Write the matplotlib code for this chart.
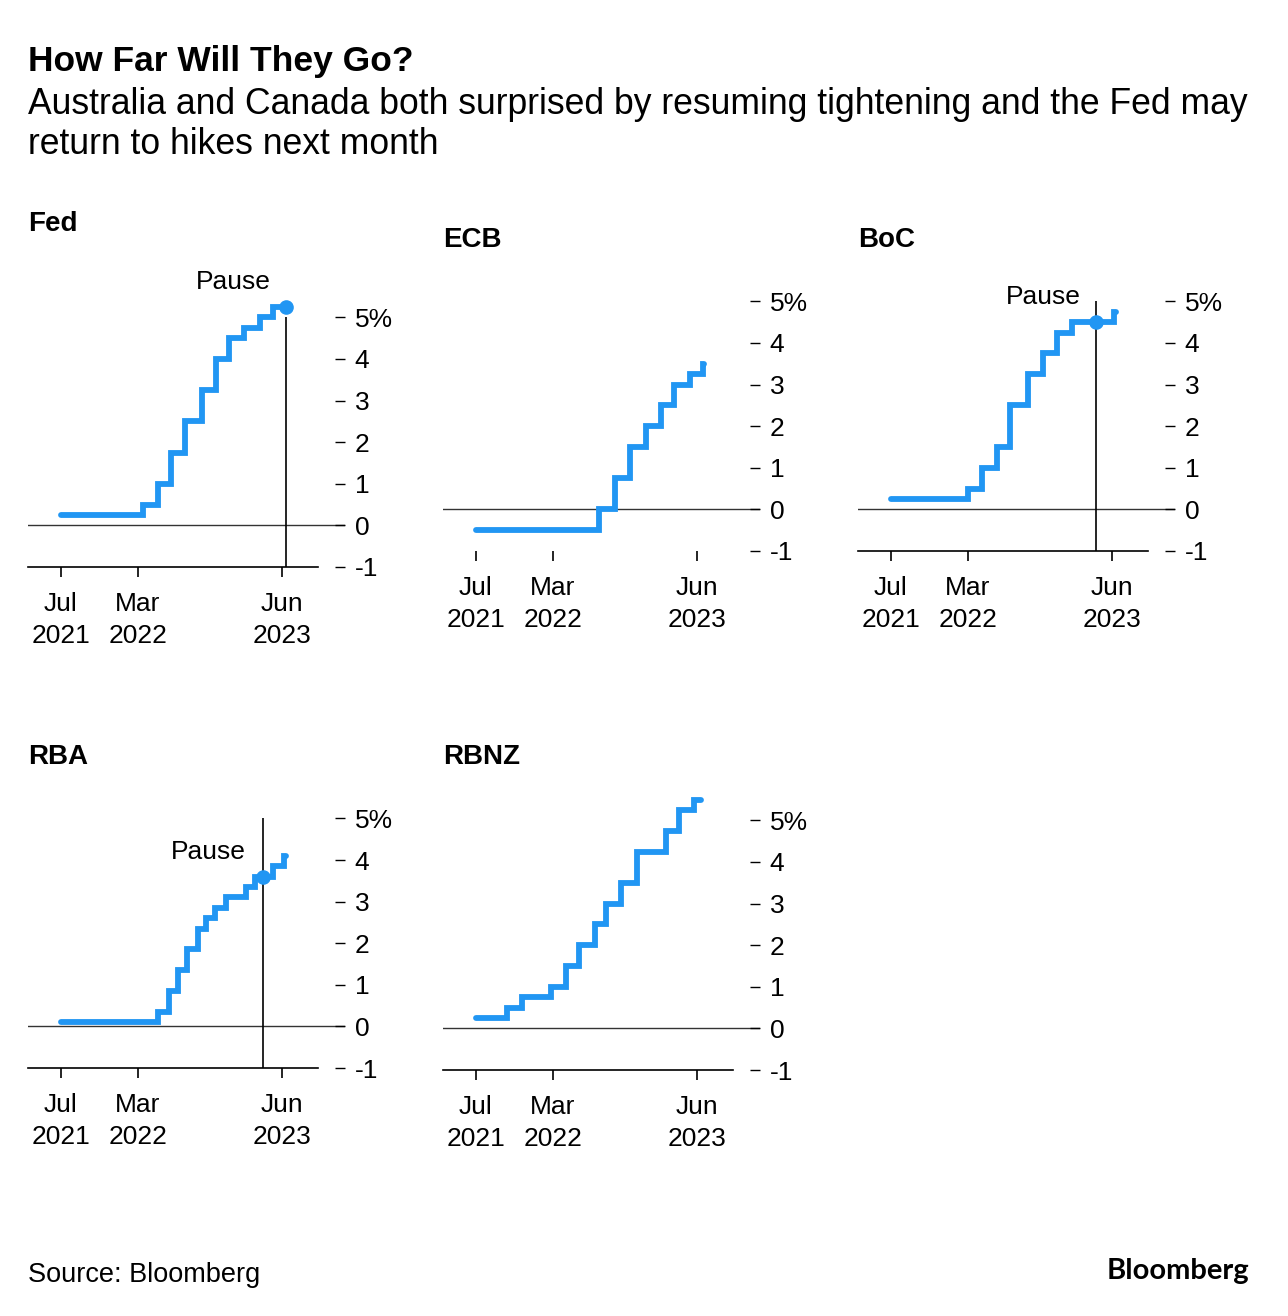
import matplotlib
matplotlib.use("Agg")
from matplotlib import pyplot as plt
import matplotlib.dates as mdates
import pandas as pd

plt.rcParams['font.family'] = ['Liberation Sans', 'DejaVu Sans']

# 数据：各央行政策利率（阶梯）
fed_dates = ["2021-07-01", "2022-03-17", "2022-05-05", "2022-06-16", "2022-07-28", "2022-09-22",
             "2022-11-03", "2022-12-15", "2023-02-02", "2023-03-23", "2023-05-04", "2023-06-14"]
fed_rates = [0.25, 0.50, 1.00, 1.75, 2.50, 3.25, 4.00, 4.50, 4.75, 5.00, 5.25, 5.25]

ecb_dates = ["2021-07-01", "2022-07-27", "2022-09-14", "2022-11-02", "2022-12-21", "2023-02-08",
             "2023-03-22", "2023-05-10", "2023-06-21", "2023-06-23"]
ecb_rates = [-0.50, 0.00, 0.75, 1.50, 2.00, 2.50, 3.00, 3.25, 3.50, 3.50]

boc_dates = ["2021-07-01", "2022-03-03", "2022-04-14", "2022-06-02", "2022-07-14", "2022-09-08",
             "2022-10-27", "2022-12-08", "2023-01-26", "2023-06-08", "2023-06-15"]
boc_rates = [0.25, 0.50, 1.00, 1.50, 2.50, 3.25, 3.75, 4.25, 4.50, 4.75, 4.75]

rba_dates = ["2021-07-01", "2022-05-04", "2022-06-08", "2022-07-06", "2022-08-03", "2022-09-07",
             "2022-10-05", "2022-11-02", "2022-12-07", "2023-02-08", "2023-03-08", "2023-05-03",
             "2023-06-07", "2023-06-14"]
rba_rates = [0.10, 0.35, 0.85, 1.35, 1.85, 2.35, 2.60, 2.85, 3.10, 3.35, 3.60, 3.85, 4.10, 4.10]

rbnz_dates = ["2021-07-01", "2021-10-06", "2021-11-24", "2022-02-23", "2022-04-13", "2022-05-25",
              "2022-07-13", "2022-08-17", "2022-10-05", "2022-11-23", "2023-02-22", "2023-04-05",
              "2023-05-24", "2023-06-14"]
rbnz_rates = [0.25, 0.50, 0.75, 1.00, 1.50, 2.00, 2.50, 3.00, 3.50, 4.25, 4.75, 5.25, 5.50, 5.50]

# 暂停点
fed_pause = ("2023-06-14", 5.25)
boc_pause = ("2023-04-12", 4.50)
rba_pause = ("2023-04-04", 3.60)

y_ticks = [-1, 0, 1, 2, 3, 4, 5]
y_labels = ["-1", "0", "1", "2", "3", "4", "5%"]
x_ticks = ["2021-07-01", "2022-03-01", "2023-06-01"]
x_labels = ["Jul\n2021", "Mar\n2022", "Jun\n2023"]

BLUE = "#2196f3"
W, H = 1288, 1316
PX_UNIT = 41.6        # 每1%的像素
PX_DAY = 9.6 * 12 / 365.25
AX_W = 317            # 轴宽（像素）

fig = plt.figure(figsize=(W / 100, H / 100), dpi=100)

fig.text(28 / W, 1 - 62 / H, "How Far Will They Go?", fontsize=25.5, fontweight="bold",
         va="center", ha="left")
fig.text(28 / W, 1 - 104 / H, "Australia and Canada both surprised by resuming tightening and the Fed may",
         fontsize=25.6, va="center", ha="left")
fig.text(28 / W, 1 - 145 / H, "return to hikes next month", fontsize=25.6, va="center", ha="left")
fig.text(28 / W, 1 - 1275 / H, "Source: Bloomberg", fontsize=19.5, va="center", ha="left")
fig.text(1249 / W, 1 - 1271 / H, "Bloomberg", fontsize=21, fontweight="bold", va="center",
         ha="right", family=["Lato", "DejaVu Sans"])

x0 = pd.Timestamp("2021-07-01") - pd.Timedelta(days=33 / PX_DAY)
x1 = x0 + pd.Timedelta(days=AX_W / PX_DAY)
x_spine_end = x0 + pd.Timedelta(days=290 / PX_DAY)


def panel(left, bottom, title, title_y, dates, rates, pause=None, pause_y=None, pause_dx=-10,
          bottom_line=True, top=5.7):
    h = (top + 1) * PX_UNIT
    ax = fig.add_axes([left / W, 1 - bottom / H, AX_W / W, h / H])
    d = pd.to_datetime(dates)
    ax.plot(d, rates, drawstyle="steps-post", color=BLUE, lw=4.2,
            solid_capstyle="round", solid_joinstyle="miter", clip_on=False, zorder=3)
    ax.axhline(0, color="#333333", lw=1.0, zorder=1)
    ax.set_xlim(x0, x1)
    ax.set_ylim(-1, top)
    for s in ["top", "right", "left"]:
        ax.spines[s].set_visible(False)
    if bottom_line:
        ax.spines["bottom"].set_bounds(mdates.date2num(x0), mdates.date2num(x_spine_end))
        ax.spines["bottom"].set_linewidth(1.2)
    else:
        ax.spines["bottom"].set_visible(False)
    ax.set_xticks(pd.to_datetime(x_ticks))
    ax.set_xticklabels(x_labels, fontsize=19, linespacing=1.4)
    ax.tick_params(axis="x", direction="out", length=7, width=1.2, pad=11)
    ax.yaxis.tick_right()
    ax.set_yticks(y_ticks)
    ax.set_yticklabels(y_labels, fontsize=19)
    ax.tick_params(axis="y", direction="in", length=7, width=1.0, pad=7, right=True, left=False)
    ax.patch.set_visible(False)
    if pause is not None:
        pd_date = pd.Timestamp(pause[0])
        ax.vlines(pd_date, -1, 5, color="black", lw=1.2, zorder=2)
        ax.plot(pd_date, pause[1], "o", color=BLUE, ms=9.5, clip_on=False, zorder=4)
        ax.annotate("Pause", xy=(pd_date, pause_y), xytext=(pause_dx, 0), textcoords="offset points",
                    ha="right", va="center", fontsize=19, annotation_clip=False)
    fig.text(left / W, 1 - title_y / H, title, fontsize=20, fontweight="bold", va="center", ha="left")
    return ax


panel(28, 567, "Fed", 224, fed_dates, fed_rates, fed_pause, 5.85, -11)
panel(443, 551, "ECB", 240, ecb_dates, ecb_rates, bottom_line=False)
panel(858, 551, "BoC", 240, boc_dates, boc_rates, boc_pause, 5.1, -11)
panel(28, 1068, "RBA", 757, rba_dates, rba_rates, rba_pause, 4.19, -13)
panel(443, 1070, "RBNZ", 757, rbnz_dates, rbnz_rates, top=5.8)

plt.savefig("out.png", dpi=100)
